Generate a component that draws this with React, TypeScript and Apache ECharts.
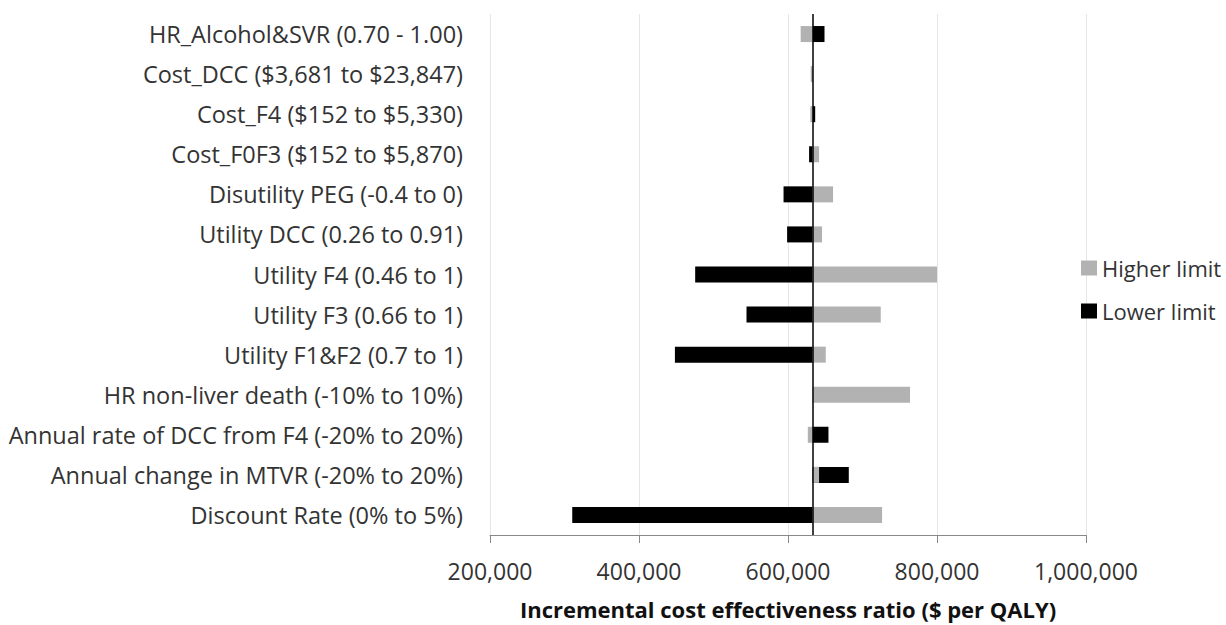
import React, { useEffect, useRef } from "react";
import * as echarts from "echarts";

const categories = [
  "HR_Alcohol&SVR (0.70 - 1.00)",
  "Cost_DCC ($3,681 to $23,847)",
  "Cost_F4 ($152 to $5,330)",
  "Cost_F0F3 ($152 to $5,870)",
  "Disutility PEG (-0.4 to 0)",
  "Utility DCC (0.26 to 0.91)",
  "Utility F4 (0.46 to 1)",
  "Utility F3 (0.66 to 1)",
  "Utility F1&F2 (0.7 to 1)",
  "HR non-liver death (-10% to 10%)",
  "Annual rate of DCC from F4 (-20% to 20%)",
  "Annual change in MTVR (-20% to 20%)",
  "Discount Rate (0% to 5%)",
];

const baseline = 633000;

const lowerLimit = [649000, 633500, 636500, 628300, 594000, 598800, 475400, 544300, 448200, 633000, 654300, 681600, 310400];
const higherLimit = [617000, 630500, 630000, 641700, 660500, 645700, 800000, 724500, 650700, 763800, 626600, 641700, 726300];

const xTicks = { min: 200000, max: 1000000, interval: 200000 };

const FONT = "'Open Sans', 'Noto Sans', sans-serif";

export default function App() {
  const ref = useRef<HTMLDivElement>(null);
  useEffect(() => {
    if (!ref.current) return;
    const chart = echarts.init(ref.current, null, { renderer: "svg" });
    const offs = (arr: number[]) => arr.map((v) => Math.min(v, baseline));
    const lens = (arr: number[]) => arr.map((v) => Math.abs(v - baseline));
    chart.setOption({
      animation: false,
      textStyle: { fontFamily: FONT },
      grid: { left: 490, right: 140, top: 14, bottom: 87, containLabel: false },
      legend: {
        data: ["Higher limit", "Lower limit"],
        orient: "vertical",
        left: 1076,
        top: 252,
        itemWidth: 16,
        itemHeight: 15,
        itemGap: 21,
        icon: "rect",
        textStyle: { fontSize: 22, color: "#333", fontFamily: FONT },
      },
      xAxis: {
        type: "value",
        min: xTicks.min,
        max: xTicks.max,
        interval: xTicks.interval,
        axisLine: { show: true, lineStyle: { color: "#888", width: 1 } },
        axisTick: { show: true, length: 8, lineStyle: { color: "#888" } },
        splitLine: { show: true, lineStyle: { color: "#e6e6e6" } },
        axisLabel: {
          fontSize: 23,
          color: "#333",
          margin: 24,
          fontFamily: FONT,
          formatter: (v: number) => v.toLocaleString("en-US"),
        },
        name: "Incremental cost effectiveness ratio ($ per QALY)",
        nameLocation: "middle",
        nameGap: 63,
        nameTextStyle: { fontSize: 22, fontWeight: "bold", color: "#111", fontFamily: FONT },
      },
      yAxis: {
        type: "category",
        data: categories,
        inverse: true,
        axisLine: { show: false },
        axisTick: { show: false },
        splitLine: { show: false },
        axisLabel: { fontSize: 23.5, color: "#333", margin: 27, fontFamily: FONT },
      },
      series: [
        {
          name: "_loBase",
          type: "bar",
          stack: "lo",
          data: offs(lowerLimit),
          itemStyle: { color: "transparent" },
          barWidth: 16,
          barGap: "-100%",
          silent: true,
        },
        {
          name: "Lower limit",
          type: "bar",
          stack: "lo",
          data: lens(lowerLimit),
          itemStyle: { color: "#000000" },
          barWidth: 16,
          barGap: "-100%",
        },
        {
          name: "_hiBase",
          type: "bar",
          stack: "hi",
          data: offs(higherLimit),
          itemStyle: { color: "transparent" },
          barWidth: 16,
          barGap: "-100%",
          silent: true,
        },
        {
          name: "Higher limit",
          type: "bar",
          stack: "hi",
          data: lens(higherLimit),
          itemStyle: { color: "#b2b2b2" },
          barWidth: 16,
          barGap: "-100%",
          markLine: {
            silent: true,
            symbol: ["none", "none"],
            label: { show: false },
            lineStyle: { color: "#000", width: 1.5, type: "solid" },
            data: [{ xAxis: baseline }],
          },
        },
      ],
    });
    return () => chart.dispose();
  }, []);
  return (
    <div
      ref={ref}
      style={{ position: "fixed", left: 0, top: 0, width: 1226, height: 625, background: "#fff" }}
    />
  );
}
